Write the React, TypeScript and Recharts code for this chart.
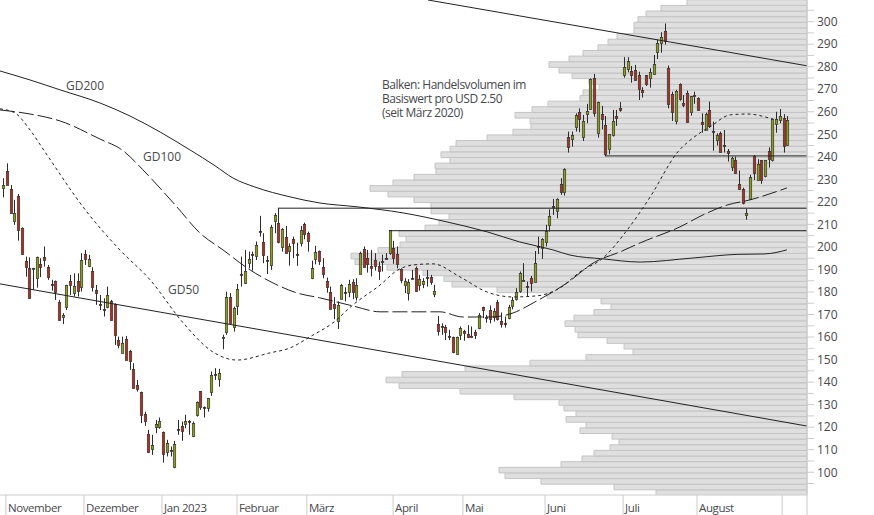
import { Bar, BarChart, ComposedChart, Line, ReferenceLine, XAxis, YAxis } from "recharts";

type Candle = [number, number, number, number]; // open, high, low, close

const WIDTH = 874;
const HEIGHT = 515;
const FONT = "'Open Sans', sans-serif";
const TEXT = "#47494d";
const PRICE_DOMAIN: [number, number] = [89.9, 309.6];
const DAY_DOMAIN: [number, number] = [0.104, 217.3];

const octCandles: Candle[] = [[226.3, 230.5, 222, 227.5]];
const novCandles: Candle[] = [
  [233.7, 237.1, 227.5, 227.5], [225.6, 227.5, 215, 215], [211.3, 220.9, 209.8, 215], [222.6, 223.5, 202.8, 207.3],
  [208.3, 208.7, 196.5, 196.9], [193.8, 195.7, 186.8, 191.3], [190.5, 195.4, 176.9, 177.5], [190.1, 190.7, 180.9, 190.7],
  [186.1, 195.7, 181.9, 195.4], [192.3, 195, 186.6, 191], [195.4, 200.2, 191.3, 194.2], [191, 192, 185.4, 186.8],
  [183.5, 185.4, 180.6, 182.9], [184.8, 185.1, 176.5, 180.2], [175.5, 176.5, 167.3, 167.6], [168.8, 170.6, 165.8, 169.7],
  [173.5, 183.2, 172, 182.9], [184.8, 187.6, 178.7, 182.9], [179.7, 188.3, 178, 182.5], [184.8, 188.3, 178, 180.6],
  [182.4, 197.2, 180.2, 194.2],
];
const decCandles: Candle[] = [
  [196.8, 198.7, 192, 194.8], [191.7, 196.5, 191, 194.5], [189.2, 191, 180.2, 182.4], [180.9, 183.1, 174.3, 179.7],
  [174.6, 178.7, 172, 174.1], [172.6, 177.2, 169.1, 172.3], [173.5, 182.4, 172.8, 178.6], [176, 176.5, 167.3, 167.6],
  [174.7, 175, 156.5, 160.7], [158.8, 160.2, 155, 156.5], [153.1, 160.2, 153.1, 157.3], [159, 160.5, 149.9, 149.9],
  [153.9, 154.3, 145.4, 149.4], [145.9, 148.4, 137.6, 137.6], [138.8, 141, 135.8, 137.1], [135.5, 135.8, 121.8, 125.2],
  [125.9, 126.9, 120.6, 122.9], [116.9, 118.8, 108.5, 108.8], [110.1, 116.6, 107.7, 112.2], [120.3, 123.2, 117.3, 121.3],
  [119.9, 124.3, 119.3, 122.8],
];
const janCandles: Candle[] = [
  [117.9, 118.1, 104.3, 108], [108.8, 114.4, 107, 112.9], [110, 111.4, 107, 109.7], [102.5, 113.9, 101.8, 112.6],
  [119.1, 123.2, 116.6, 118.7], [120.6, 122.5, 114, 118.5], [121.6, 125.5, 119.5, 122.8], [122.9, 123.2, 116.6, 122.5],
  [116.1, 122.5, 115.6, 121.8], [125.5, 131.4, 124.7, 131.1], [136, 136.1, 127.7, 128.9], [128.9, 129.2, 124.3, 128.6],
  [128.4, 132.9, 126.9, 132.9], [135.8, 144.7, 133.9, 143.1], [143.6, 146.2, 141, 143.1], [141.6, 145.9, 138, 144],
  [159.8, 161, 154.6, 160.2], [162.4, 180.2, 161, 177.7], [177.7, 179.5, 166.1, 166.4], [164.4, 173.5, 162.4, 172.8],
];
const febCandles: Candle[] = [
  [174, 183.5, 169.8, 181.2], [187.9, 195.7, 182.4, 187.4], [183.9, 198.7, 183.6, 189.5], [193, 197.9, 190.5, 194.5],
  [196.8, 197.9, 189.5, 196.3], [196, 202.4, 194.2, 200.7], [207.1, 213.8, 204.6, 206.7], [202.1, 206.1, 192.8, 196.5],
  [194.2, 196, 188, 193.8], [191.9, 209.8, 189.8, 208.7], [211.7, 215, 206.1, 214.1], [210.5, 217.2, 201.6, 202.1],
  [199.9, 208.3, 197.9, 207.9], [204.6, 209.3, 197.2, 197.5], [198.2, 201.6, 191.7, 200.2], [203.4, 204.6, 195, 201.9],
  [196.9, 201.9, 191.6, 196.5], [201.6, 209.3, 200.2, 207.4], [210.1, 210.8, 203.4, 205.6],
];
const marCandles: Candle[] = [
  [206.1, 206.8, 197.9, 202.8], [186.3, 193.9, 185.7, 190.5], [194.8, 200.5, 192.3, 197.8], [198.1, 198.4, 192, 193.9],
  [191, 195, 186.1, 187.9], [184.9, 186.4, 179.7, 182], [179.9, 182.4, 172.4, 172.5], [174.6, 177.7, 167.9, 173.1],
  [167.3, 175.8, 163.6, 174.3], [176.9, 183.6, 176.9, 183.2], [179.9, 182.1, 175.8, 179.6], [180.2, 185.4, 177.7, 183.4],
  [184.3, 185.7, 176.8, 180.2], [178, 186.1, 176.2, 183], [188, 197.9, 188, 197.3], [199, 200.2, 191, 191],
  [195, 198.7, 188.6, 192.3], [191.4, 198.7, 186.9, 190.5], [194.2, 197.2, 189.5, 191.6], [191.6, 193.5, 185.4, 189.1],
  [193.8, 196.5, 189.1, 193.4], [195.1, 197.2, 194.2, 194.7], [197.5, 207.3, 196.5, 207.3],
];
const aprCandles: Candle[] = [
  [199.4, 202.7, 192.5, 195], [196.8, 200.2, 190.5, 192.5], [190.1, 190.5, 183.9, 185.5], [182.9, 186.1, 179.5, 184.8],
  [179.7, 185.7, 176.2, 184.3], [186.3, 189.8, 185.7, 185.8], [190.5, 191.3, 180.2, 180.6], [182.9, 187.6, 180.6, 185.8],
  [183.6, 186.1, 181.7, 184.8], [186.8, 189.8, 182.4, 186.4], [186.8, 187.6, 183.2, 184.3], [178.9, 183.2, 177.7, 180.3],
  [165.7, 169.4, 160.7, 162.9], [165.1, 166.1, 161, 164.8], [164.5, 165.4, 158.7, 162.4], [160.4, 163.2, 158.7, 159.9],
  [159.9, 160.2, 152.8, 153.3], [152.5, 160.2, 152.2, 159.9], [160.8, 164.7, 158.7, 164.1],
];
const mayCandles: Candle[] = [
  [162.7, 163.2, 158.4, 161.6], [161.3, 165.3, 159.5, 160.2], [160.4, 164.7, 159.9, 159.9], [162.1, 163.2, 159.2, 161.1],
  [163.8, 170.6, 163.5, 169.7], [173.2, 173.5, 168.4, 171.9], [169.1, 169.8, 166.4, 168.8], [171.9, 174, 166.1, 168.2],
  [168.8, 172.8, 166.9, 171.6], [175.5, 176.5, 167.3, 167.9], [167.2, 170.9, 164.2, 166], [166.1, 169.1, 164.2, 165.7],
  [168.5, 174.3, 167.9, 173.4], [174, 177.7, 172.3, 176.3], [177.1, 181.7, 176.2, 179.9], [180.6, 189.1, 179.7, 188.5],
  [185.4, 192.8, 185.1, 185.1], [182.6, 184.6, 178, 182.1], [186.1, 187.1, 180.2, 184.2], [184.6, 198.2, 184.6, 192.8],
  [200.6, 204.6, 196.9, 200.2], [199.4, 203.9, 194.7, 203.4],
];
const junCandles: Candle[] = [
  [202.4, 209.8, 200.2, 207.1], [209.9, 216.7, 206.8, 213.8], [218, 221.3, 214.2, 217.7], [216.1, 221.6, 212.7, 221.2],
  [227.8, 230.5, 223.1, 224.6], [224.3, 234.9, 222.8, 234.6], [248.7, 251.2, 241.9, 244.5], [248.1, 251.2, 244.5, 249.6],
  [253.4, 259.3, 251.2, 258.6], [259.8, 261.5, 250.9, 256.9], [248.7, 258.6, 247, 255.8], [259.2, 263.5, 254.9, 260.2],
  [261.4, 274.8, 261.1, 274.4], [274.8, 276.8, 257.8, 259.3], [250.7, 264.5, 248.5, 264.2], [258.9, 262.6, 252.2, 256.7],
  [254, 258.1, 240.4, 241.1], [243.3, 250, 241.1, 250], [249.7, 260.8, 249, 256.1], [258, 260.8, 253.7, 257.4],
  [261.5, 264.3, 260, 260.8],
];
const julCandles: Candle[] = [
  [276.5, 284.2, 275.1, 279.7], [279.1, 284.2, 277.5, 282.4], [278.1, 280.3, 272.9, 276.5], [278.4, 280.8, 273.8, 274.1],
  [276.2, 277.8, 265.2, 270], [269.7, 270.9, 266.3, 268.9], [276.2, 276.3, 271.4, 272.2], [274.8, 279.3, 270.7, 277.5],
  [276.9, 285.2, 276.5, 281.2], [286.7, 291.9, 283.4, 290.4], [290.4, 295.3, 286.2, 293], [295.7, 299.2, 289.8, 291.6],
  [279.3, 280.5, 261.5, 263.3], [267.7, 268.9, 255.9, 260], [256.1, 269.7, 254.4, 269.1], [272.2, 272.6, 264.9, 265.5],
  [264, 267.4, 262, 263.2], [268.2, 269.4, 255.2, 255.6], [260, 267, 258.3, 266.9], [267.3, 268.9, 263.5, 267],
];
const augCandles: Candle[] = [
  [266, 266.4, 260.5, 260.8], [255.3, 259.3, 250.7, 254.4], [252.1, 259.6, 251.9, 259], [260.6, 264.5, 252.8, 253.7],
  [251.3, 255.6, 242.7, 251], [247.6, 250.4, 245, 249.7], [250.4, 251.2, 241.9, 242.2], [245.1, 251.9, 241.9, 244.8],
  [242.6, 243.5, 237.9, 241.9], [235.7, 240.1, 233.7, 239.3], [238.5, 240.1, 232.5, 233], [227.8, 233.9, 225.3, 225.6],
  [225.9, 226.3, 218.9, 219.4], [214, 216.9, 212.1, 214.9], [221.4, 232, 220.9, 231.1], [240.4, 240.8, 229.7, 233],
  [229.6, 238.9, 229.4, 236.8], [238.5, 238.6, 228, 229.7], [231.4, 238.6, 230.9, 238.5], [242.6, 244.2, 235.2, 238.9],
  [238.6, 257.1, 237.9, 256.9], [254.4, 260, 250.7, 256.7], [256.2, 261.2, 254.9, 258],
];
const sepCandles: Candle[] = [[257.1, 258.9, 241.9, 245], [245.1, 258.1, 245, 256.2]];

const gd200Days = [0.1, 8.2, 16.3, 27, 35.1, 43.2, 51.2, 58, 62.8, 68.7, 78.2, 86.2, 96.2, 108.6, 120.4, 131.2, 140, 148.9, 153.5, 162.4, 172.4, 186.6, 198.5, 206, 211.9];
const gd200Values = [278.1, 274.1, 269.7, 263.9, 258.1, 251, 243.1, 236, 230.6, 226.6, 222.2, 219.5, 217.8, 215.1, 211.1, 206.7, 202.2, 198.7, 196.4, 194.7, 193.3, 195.1, 196.7, 196.9, 198.7];
const gd100Days = [0.1, 8.2, 16.3, 27, 32.9, 38.6, 42.4, 47.7, 53.9, 60.1, 67.4, 73.6, 80, 86.2, 95.1, 102.4, 112.3, 118.5, 124.7, 132, 138.2, 144.1, 152.7, 160.2, 167, 172.4, 183.1, 189.3, 195.8, 202, 211.9];
const gd100Values = [260.8, 259, 255.9, 247.9, 243.1, 234.2, 227.5, 217.8, 206.2, 198.7, 189.8, 184, 179.6, 177.4, 173.8, 171.2, 171.2, 171.2, 168.9, 168.9, 170.7, 175.6, 184, 193.3, 197.8, 201.8, 208.9, 214.2, 218.6, 220.9, 226.2];
const gd50Days = [0.1, 4.1, 8.2, 12.2, 23.5, 32.4, 40.5, 49.4, 57.4, 63.9, 72.8, 78.2, 83.5, 89.7, 95.1, 102.4, 107.2, 111.3, 116.6, 123.9, 131.2, 138.2, 144.6, 150.8, 156.2, 162.4, 168.9, 175.1, 182.3, 187.7, 191.2, 196.6, 201.2, 207.9];
const gd50Values = [261.3, 259.5, 251.9, 242.2, 215.5, 198.6, 185.4, 166.3, 153.4, 149.8, 153, 155.2, 160.1, 166.3, 174.3, 183.1, 189.8, 192, 192.5, 186.7, 180, 177.8, 178.3, 181.8, 188.9, 195.1, 207.5, 222.2, 241.7, 249.7, 253.3, 258.6, 259, 256.8];

const volumeBinLows = [
  90, 92.5, 95, 97.5, 100, 102.5, 105, 107.5, 110, 112.5, 115, 117.5, 120, 122.5, 125, 127.5, 130, 132.5, 135, 137.5, 140, 142.5,
  145, 147.5, 150, 152.5, 155, 157.5, 160, 162.5, 165, 167.5, 170, 172.5, 175, 177.5, 180, 182.5, 185, 187.5, 190, 192.5,
  195, 197.5, 200, 202.5, 205, 207.5, 210, 212.5, 215, 217.5, 220, 222.5, 225, 227.5, 230, 232.5, 235, 237.5, 240, 242.5,
  245, 247.5, 250, 252.5, 255, 257.5, 260, 262.5, 265, 267.5, 270, 272.5, 275, 277.5, 280, 282.5, 285, 287.5, 290, 292.5,
  295, 297.5, 300, 302.5, 305, 307.5,
];
const volumeValues = [
  151, 193, 266, 302, 308, 246, 225, 213, 197, 188, 195, 227, 221, 241, 231, 243, 248, 293, 347, 408, 421, 405,
  342, 277, 221, 174, 183, 200, 229, 232, 242, 233, 213, 196, 206, 260, 310, 355, 363, 384, 420, 452,
  456, 429, 407, 401, 408, 382, 368, 358, 376, 376, 393, 419, 437, 414, 393, 371, 372, 357, 366, 357,
  351, 320, 294, 276, 277, 292, 275, 259, 227, 224, 208, 218, 235, 248, 258, 238, 224, 209, 199, 190,
  173, 173, 169, 161, 146, 120,
];

const priceTicks = [
  95, 100, 105, 110, 115, 120, 125, 130, 135, 140, 145, 150, 155, 160, 165, 170, 175, 180, 185, 190, 195, 200,
  205, 210, 215, 220, 225, 230, 235, 240, 245, 250, 255, 260, 265, 270, 275, 280, 285, 290, 295, 300, 305,
];
const monthTickDays = [1.7, 22.7, 43.7, 63.9, 82.7, 105.9, 124.7, 146.8, 167.8, 187.7, 210.6, 217.3];
const monthTickLabels = ["November", "Dezember", "Jan 2023", "Februar", "März", "April", "Mai", "Juni", "Juli", "August", "", ""];

const candles = [
  ...octCandles, ...novCandles, ...decCandles, ...janCandles, ...febCandles, ...marCandles,
  ...aprCandles, ...mayCandles, ...junCandles, ...julCandles, ...augCandles, ...sepCandles,
].map(([open, high, low, close], i) => ({ day: i + 1, open, high, low, close, range: [low, high] }));

// bars sit a hair under the tick, hence 0.95 and not 1.25
const volumeRows = volumeBinLows.map((low, i) => ({ mid: low + 0.95, volume: volumeValues[i] }));
const toPoints = (days: number[], values: number[]) => days.map((day, i) => ({ day, value: values[i] }));

function CandleShape(props: any) {
  const { x, y, width, height, payload } = props;
  const { open, high, low, close } = payload;
  const perUnit = height / (high - low || 1);
  const cx = Math.round(x + width / 2) + 0.5;
  const top = Math.round(y + (high - Math.max(open, close)) * perUnit) + 0.5;
  const bottom = Math.round(y + (high - Math.min(open, close)) * perUnit) + 0.5;
  const fill = close > open ? "#8f9f12" : "#b0301e";
  return (
    <g>
      <line x1={cx} x2={cx} y1={y} y2={y + height} stroke="#2b2b2b" strokeWidth={1} />
      <rect x={cx - 1.2} y={top} width={2.4} height={Math.max(bottom - top, 1)} fill={fill} stroke="#333" strokeWidth={0.7} />
    </g>
  );
}

function MonthTick(props: any) {
  const { x, y, index } = props;
  return (
    <text x={x + 2} y={y - 5} fill={TEXT} fontSize={11.5} letterSpacing={-0.4} fontFamily={FONT}>
      {monthTickLabels[index]}
    </text>
  );
}

function Note({ left, top, tracking = 0, children }: { left: number; top: number; tracking?: number; children: React.ReactNode }) {
  return (
    <div style={{ position: "absolute", left, top, color: TEXT, fontSize: 12, letterSpacing: tracking, lineHeight: "14px", fontFamily: FONT, whiteSpace: "nowrap" }}>
      {children}
    </div>
  );
}

export default function App() {
  return (
    <div style={{ position: "fixed", left: 0, top: 0, width: WIDTH, height: HEIGHT, background: "#fff", overflow: "hidden" }}>
      <div style={{ position: "absolute", left: 0, top: 0 }}>
        <BarChart
          width={WIDTH}
          height={HEIGHT}
          layout="vertical"
          data={volumeRows}
          margin={{ top: 0, right: 67, bottom: 20, left: 0 }}
          barSize={5.63}
        >
          <XAxis type="number" domain={[0, 807]} reversed hide />
          <YAxis type="number" dataKey="mid" domain={PRICE_DOMAIN} allowDataOverflow reversed hide />
          <Bar dataKey="volume" fill="#dfdfdf" stroke="#c4c4c4" strokeWidth={1} isAnimationActive={false} />
        </BarChart>
      </div>
      <div style={{ position: "absolute", left: 0, top: 0 }}>
        <ComposedChart width={WIDTH} height={HEIGHT} data={candles} margin={{ top: 0, right: 0, bottom: 0, left: 0 }} barSize={3}>
          <XAxis
            type="number"
            dataKey="day"
            domain={DAY_DOMAIN}
            allowDataOverflow
            ticks={monthTickDays}
            interval={0}
            height={20}
            tickSize={20}
            tick={<MonthTick />}
            axisLine={{ stroke: "#cccccc" }}
            tickLine={{ stroke: "#cccccc" }}
          />
          <YAxis
            orientation="right"
            type="number"
            domain={PRICE_DOMAIN}
            allowDataOverflow
            ticks={priceTicks}
            interval={0}
            width={67}
            tickSize={7}
            tickMargin={3}
            tickFormatter={(v: number) => (v % 10 === 0 ? String(v) : "")}
            tick={{ fill: TEXT, fontSize: 12, fontFamily: FONT, textAnchor: "start" }}
            axisLine={{ stroke: "#cccccc" }}
            tickLine={{ stroke: "#cccccc" }}
          />
          <ReferenceLine segment={[{ x: 115.3, y: 309.6 }, { x: 217.3, y: 280.4 }]} stroke="#222" strokeWidth={1} />
          <ReferenceLine segment={[{ x: 0.104, y: 183.6 }, { x: 217.3, y: 120.5 }]} stroke="#222" strokeWidth={1} />
          <ReferenceLine segment={[{ x: 74.9, y: 217.2 }, { x: 217.3, y: 217.2 }]} stroke="#222" strokeWidth={1} />
          <ReferenceLine segment={[{ x: 104.8, y: 207.2 }, { x: 217.3, y: 207.2 }]} stroke="#222" strokeWidth={1} />
          <ReferenceLine segment={[{ x: 162.9, y: 240.4 }, { x: 217.3, y: 240.4 }]} stroke="#222" strokeWidth={1} />
          <Line data={toPoints(gd200Days, gd200Values)} dataKey="value" type="monotone" stroke="#222" strokeWidth={1} dot={false} activeDot={false} isAnimationActive={false} />
          <Line data={toPoints(gd100Days, gd100Values)} dataKey="value" type="monotone" stroke="#222" strokeWidth={1} strokeDasharray="15 4" dot={false} activeDot={false} isAnimationActive={false} />
          <Line data={toPoints(gd50Days, gd50Values)} dataKey="value" type="monotone" stroke="#222" strokeWidth={1} strokeDasharray="3 3" dot={false} activeDot={false} isAnimationActive={false} />
          <Bar dataKey="range" shape={<CandleShape />} isAnimationActive={false} />
        </ComposedChart>
      </div>
      <Note left={66} top={79}>GD200</Note>
      <Note left={143} top={150}>GD100</Note>
      <Note left={168} top={283}>GD50</Note>
      <Note left={382} top={78} tracking={-0.48}>
        Balken: Handelsvolumen im
        <br />
        Basiswert pro USD 2.50
        <br />
        (seit März 2020)
      </Note>
    </div>
  );
}
